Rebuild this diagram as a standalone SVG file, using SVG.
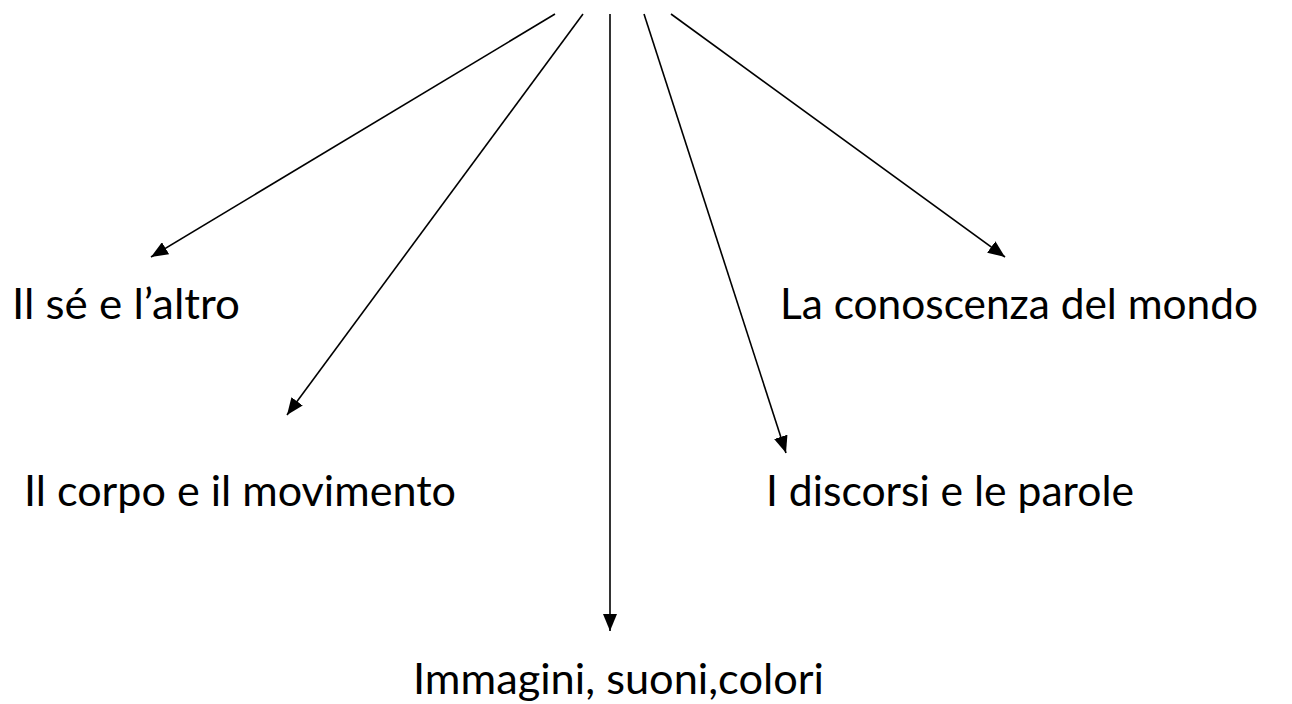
<svg xmlns="http://www.w3.org/2000/svg" width="1292" height="704" viewBox="0 0 1292 704">
<style>
.lbl{font-family:Lato,"Liberation Sans",sans-serif;font-size:42px;fill:#000}
.conn line{stroke:#000;stroke-width:1.6;fill:none;marker-end:url(#ah)}
</style>
<defs>
<marker id="ah" markerUnits="userSpaceOnUse" markerWidth="18" markerHeight="14" refX="17" refY="7" orient="auto">
<path d="M0,0 L17,7 L0,14 z" fill="#000"/>
</marker>
</defs>
<rect width="1292" height="704" fill="#fff"/>
<g id="connectors" class="conn">
<line x1="555" y1="14" x2="151" y2="257"/>
<line x1="583" y1="14" x2="287" y2="415"/>
<line x1="610" y1="14" x2="610" y2="631"/>
<line x1="644" y1="14" x2="786" y2="453"/>
<line x1="671" y1="14" x2="1005" y2="257"/>
</g>
<g id="n1"><text class="lbl" x="12" y="319" textLength="228" lengthAdjust="spacingAndGlyphs">Il sé e l’altro</text></g>
<g id="n2"><text class="lbl" x="24" y="506" textLength="432" lengthAdjust="spacingAndGlyphs">Il corpo e il movimento</text></g>
<g id="n3"><text class="lbl" x="413" y="694" textLength="411" lengthAdjust="spacingAndGlyphs">Immagini, suoni,colori</text></g>
<g id="n4"><text class="lbl" x="780" y="319" textLength="478" lengthAdjust="spacingAndGlyphs">La conoscenza del mondo</text></g>
<g id="n5"><text class="lbl" x="766" y="506" textLength="368" lengthAdjust="spacingAndGlyphs">I discorsi e le parole</text></g>
</svg>
